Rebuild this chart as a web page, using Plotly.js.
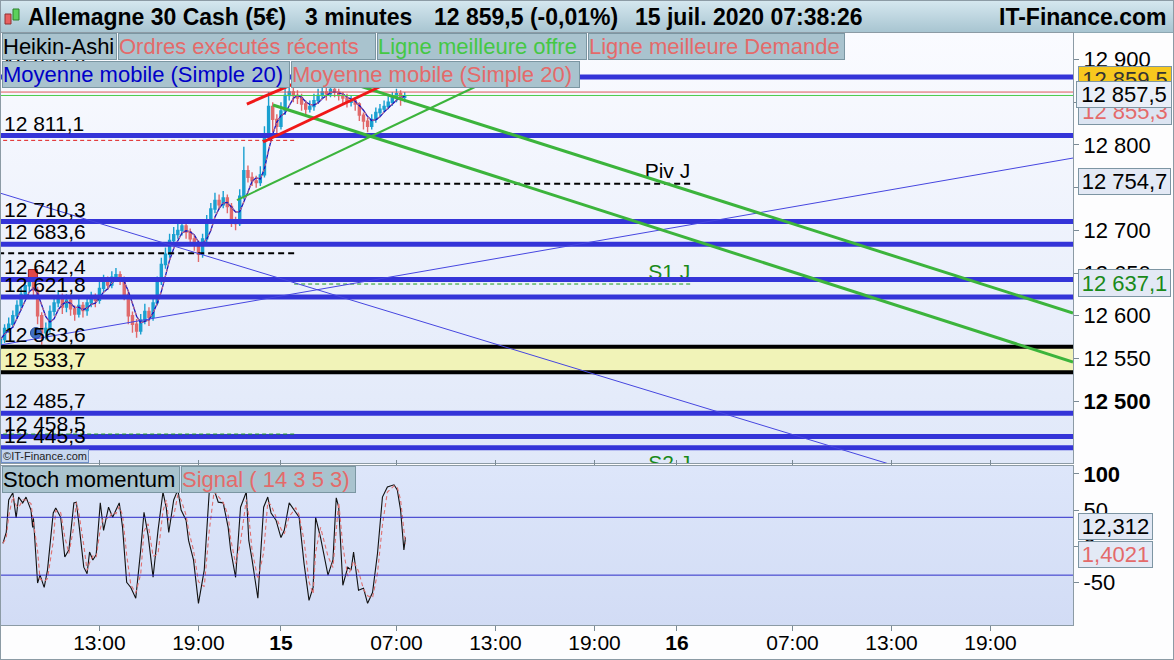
<!DOCTYPE html>
<html><head><meta charset="utf-8">
<script src="https://cdn.plot.ly/plotly-3.0.1.min.js"></script>
<style>
html,body{margin:0;padding:0;background:#fff;}
#wrap{position:relative;width:1174px;height:660px;overflow:hidden;background:#fdfdfe;}
#hdr{position:absolute;left:0;top:0;width:1174px;height:33px;background:linear-gradient(#d6e8f0,#a8c5d1);border-bottom:1px solid #8ea7b2;box-sizing:border-box;}
#bgMain{position:absolute;left:1px;top:33px;width:1072px;height:430px;background:linear-gradient(#fafbff,#e0e8f9);}
#bgSto{position:absolute;left:1px;top:466px;width:1072px;height:159px;background:linear-gradient(#dde6fa,#d2dcf5);}
#frame{position:absolute;left:0;top:0;width:1174px;height:660px;box-sizing:border-box;border:1px solid #8c9ba5;pointer-events:none;}
#chart{position:absolute;left:0;top:0;width:1174px;height:660px;}
</style></head>
<body>
<div id="wrap">
<div id="hdr"></div><div id="bgMain"></div><div id="bgSto"></div>
<div id="chart"></div>
<div id="frame"></div>
</div>
<script>
// ---------- DATA ----------
const candleStart = "2020-07-14 07:00";   // 15-minute Heikin-Ashi candles
const candleStepMin = 15;
const firstOpen = 12565;
const close = [12572,12585,12590,12600,12612,12625,12635,12640,12630,12600,
12580,12585,12605,12615,12622,12610,12618,12608,12602,12612,
12606,12615,12620,12618,12632,12640,12636,12645,12648,12642,
12625,12600,12590,12582,12595,12605,12598,12615,12640,12660,
12672,12688,12695,12700,12705,12698,12690,12685,12672,12690,
12712,12725,12735,12730,12738,12728,12712,12708,12740,12770,
12762,12758,12756,12765,12810,12845,12830,12822,12840,12858,
12862,12858,12855,12848,12842,12845,12852,12858,12862,12860,
12865,12862,12858,12855,12850,12852,12848,12835,12828,12822,
12830,12838,12842,12845,12850,12855,12860,12856,12857.5];
const high = [12578,12590,12598,12606,12618,12632,12642,12650,12645,12634,
12604,12592,12612,12622,12630,12626,12625,12622,12612,12620,
12616,12622,12628,12626,12640,12648,12646,12652,12656,12652,
12646,12628,12605,12596,12602,12614,12610,12622,12646,12668,
12680,12696,12704,12710,12712,12708,12702,12694,12688,12696,
12718,12732,12744,12742,12746,12742,12732,12716,12748,12798,
12776,12768,12764,12775,12822,12862,12850,12836,12850,12868,
12873,12868,12864,12860,12852,12852,12860,12866,12870,12868,
12872,12870,12866,12862,12860,12858,12856,12850,12838,12832,
12836,12844,12848,12852,12857,12862,12866,12864,12862];
const low = [12560,12568,12580,12586,12596,12606,12620,12628,12622,12590,
12566,12572,12580,12600,12610,12602,12604,12600,12594,12598,
12598,12600,12610,12610,12614,12628,12630,12632,12640,12636,
12618,12590,12580,12574,12578,12590,12588,12594,12612,12636,
12655,12668,12682,12690,12694,12690,12684,12676,12663,12668,
12686,12708,12720,12724,12726,12720,12704,12700,12705,12736,
12756,12752,12750,12752,12762,12805,12815,12812,12818,12835,
12852,12850,12848,12840,12834,12838,12840,12848,12854,12852,
12856,12856,12852,12848,12844,12845,12840,12828,12818,12815,
12818,12826,12834,12838,12842,12846,12850,12846,12850];

const stochTime = ["2020-07-14 07:09","2020-07-14 07:21","2020-07-14 07:30","2020-07-14 07:45","2020-07-14 07:57","2020-07-14 08:06","2020-07-14 08:21","2020-07-14 08:33","2020-07-14 08:51","2020-07-14 08:57",
"2020-07-14 09:00","2020-07-14 09:15","2020-07-14 09:24","2020-07-14 09:39","2020-07-14 09:51","2020-07-14 10:12","2020-07-14 10:21","2020-07-14 10:39","2020-07-14 10:54","2020-07-14 11:09",
"2020-07-14 11:27","2020-07-14 11:36","2020-07-14 11:45","2020-07-14 12:03","2020-07-14 12:15","2020-07-14 12:24","2020-07-14 12:36","2020-07-14 12:48","2020-07-14 13:03","2020-07-14 13:15",
"2020-07-14 13:33","2020-07-14 13:48","2020-07-14 14:00","2020-07-14 14:12","2020-07-14 14:24","2020-07-14 14:39","2020-07-14 14:54","2020-07-14 15:12","2020-07-14 15:30","2020-07-14 15:42",
"2020-07-14 15:57","2020-07-14 16:15","2020-07-14 16:33","2020-07-14 16:51","2020-07-14 17:03","2020-07-14 17:12","2020-07-14 17:30","2020-07-14 17:45","2020-07-14 17:57","2020-07-14 18:15",
"2020-07-14 18:24","2020-07-14 18:42","2020-07-14 19:00","2020-07-14 19:21","2020-07-14 19:39","2020-07-14 19:57","2020-07-14 20:12","2020-07-14 20:30","2020-07-14 20:48","2020-07-14 20:57",
"2020-07-14 21:15","2020-07-14 21:33","2020-07-14 21:54","2020-07-14 22:03","2020-07-14 22:15","2020-07-14 22:36","2020-07-14 22:57","2020-07-14 23:12","2020-07-14 23:24","2020-07-14 23:42",
"2020-07-15 00:00","2020-07-15 00:12","2020-07-15 00:30","2020-07-15 00:54","2020-07-15 01:06","2020-07-15 01:24","2020-07-15 01:42","2020-07-15 01:57","2020-07-15 02:06","2020-07-15 02:24",
"2020-07-15 02:51","2020-07-15 03:09","2020-07-15 03:21","2020-07-15 03:30","2020-07-15 03:45","2020-07-15 04:03","2020-07-15 04:15","2020-07-15 04:24","2020-07-15 04:42","2020-07-15 05:00",
"2020-07-15 05:15","2020-07-15 05:33","2020-07-15 05:51","2020-07-15 06:09","2020-07-15 06:27","2020-07-15 06:51","2020-07-15 07:03","2020-07-15 07:15","2020-07-15 07:27","2020-07-15 07:33"];
const stochK = [4,19,64,74,39,68,60,68,50,26,
39,-51,-40,-57,-33,46,53,40,-15,-5,
60,61,32,-29,-38,-8,-19,-12,60,22,
54,40,50,60,26,-50,-57,-72,-5,47,
15,-43,22,75,53,19,64,78,50,36,
8,-19,-79,-33,74,78,61,60,26,-5,
-43,54,75,8,-19,-72,54,68,46,36,
12,22,60,46,40,-24,-75,-57,40,12,
-40,-19,67,54,-54,-29,-33,-8,-61,-58,
-79,-64,-10,68,82,85,78,50,-5,12.312];
const stochNow = 12.312, signalNow = 1.4021;
const stochBands = [40, -40];

// horizontal levels
const blueLevels = [12879.6, 12811.1, 12710.3, 12683.6, 12642.4, 12621.8, 12485.7, 12458.5, 12445.3];
const bandLevels = [12563.6, 12533.7];
const bidAskLines = {demande: 12862, offre: 12858};
const askPrice = 12859.5, lastPrice = 12857.5, bidPrice = 12855.3;
// pivots: previous day and current day
const dayBreaks = ["2020-07-14 00:48", "2020-07-15 00:48", "2020-07-16 00:48"];
const prevPivot = 12673.1, prevR1 = 12805.4, prevS1 = 12461.3;
const pivJ = 12754.7, s1J = 12637.1, s2J = 12413;
// trend lines [t0, p0, t1, p1]
const blueDown = ["2020-07-14 06:58", 12743.7, "2020-07-17 00:00", 12360.6];
const blueUp = ["2020-07-14 06:58", 12565.6, "2020-07-17 00:00", 12784.7];
const greenUpper = ["2020-07-15 04:36", 12870.2, "2020-07-17 00:00", 12603.1];
const greenLower = ["2020-07-14 23:31", 12846.8, "2020-07-17 00:00", 12545.7];
const greenRise = ["2020-07-14 21:20", 12735.5, "2020-07-15 11:53", 12869.1];
const redUpper = ["2020-07-14 21:56", 12848.0, "2020-07-15 01:09", 12874.9];
const redLower = ["2020-07-14 22:55", 12803.5, "2020-07-15 06:36", 12873.8];
// executed orders
const orderTime = ["2020-07-14 08:58", "2020-07-14 09:09"];
const orderPrice = [12648.8, 12579.7];

const xRange = ["2020-07-14 07:02", "2020-07-17 00:00"];
const xTickVals = ["2020-07-14 13:00","2020-07-14 19:00","2020-07-15 00:00","2020-07-15 07:00","2020-07-15 13:00","2020-07-15 19:00","2020-07-16 00:00","2020-07-16 07:00","2020-07-16 13:00","2020-07-16 19:00"];
const xTickText = ["13:00","19:00","<b>15</b>","07:00","13:00","19:00","<b>16</b>","07:00","13:00","19:00"];
const yTickVals = [12500,12550,12600,12650,12700,12750,12800,12850,12900];
const yTickText = ["<b>12 500</b>","12 550","12 600","12 650","12 700","12 750","12 800","12 850","12 900"];
const y2TickVals = [100, 50, 0, -50];
const y2TickText = ["<b>100</b>","50","0","-50"];

// ---------- helpers ----------
function pad(n){return (n<10?"0":"")+n;}
function fmtTime(ms){const d=new Date(ms);return d.getUTCFullYear()+"-"+pad(d.getUTCMonth()+1)+"-"+pad(d.getUTCDate())+" "+pad(d.getUTCHours())+":"+pad(d.getUTCMinutes());}
const t0 = Date.UTC(2020,6,14,7,0);
const candleTime = close.map((_,i)=>fmtTime(t0 + i*candleStepMin*60000));
const open = [firstOpen].concat(close.slice(0,-1));
function sma(a,n){return a.map((_,i)=>{const s=a.slice(Math.max(0,i-n+1),i+1);return s.reduce((p,c)=>p+c,0)/s.length;});}
const ma20 = sma(close,4);
const signal = sma(stochK,2);
function fr(v,dec){const s=v.toFixed(dec).split(".");const i=s[0].replace(/\B(?=(\d{3})+(?!\d))/g," ");return s.length>1? i+","+s[1] : i;}
function PX(px){return (px-1)/1072;}
function PY(py){return (625-py)/592;}

const FONT = '"Liberation Sans", Arial, sans-serif';
const SALMON = '#e46a6a', BLUE='#3434d8';

// ---------- traces ----------
const traces = [
 {type:'candlestick', x:candleTime, open:open, high:high, low:low, close:close, xaxis:'x', yaxis:'y',
  increasing:{line:{color:'#1aa0d0',width:1.4},fillcolor:'#1aa0d0'},
  decreasing:{line:{color:'#e06a6c',width:1.4},fillcolor:'#e06a6c'},
  whiskerwidth:0, hoverinfo:'skip'},
 {type:'scatter', mode:'lines', x:candleTime, y:ma20, line:{color:'#1414c0',width:1.3}, hoverinfo:'skip'},
 {type:'scatter', mode:'lines', x:candleTime, y:ma20, line:{color:'#e07878',width:1,dash:'3px,3px'}, hoverinfo:'skip'},
 {type:'scatter', mode:'markers', x:[orderTime[0]], y:[orderPrice[0]], marker:{symbol:'square',size:9,color:'#e04848',line:{color:'#a02020',width:1}}, hoverinfo:'skip'},
 {type:'scatter', mode:'markers', x:[orderTime[1]], y:[orderPrice[1]], marker:{symbol:'circle',size:11,color:'#3f6fc4',line:{color:'#2a4f9a',width:1}}, hoverinfo:'skip'},
 {type:'scatter', mode:'text', x:[dayBreaks[2]], y:[pivJ], text:['Piv J'], textposition:'top left', textfont:{family:FONT,size:21,color:'#000'}, cliponaxis:true, hoverinfo:'skip'},
 {type:'scatter', mode:'text', x:[dayBreaks[2]], y:[s1J], text:['S1 J'], textposition:'top left', textfont:{family:FONT,size:21,color:'#1a8a1a'}, cliponaxis:true, hoverinfo:'skip'},
 {type:'scatter', mode:'text', x:[dayBreaks[2]], y:[s2J], text:['S2 J'], textposition:'top left', textfont:{family:FONT,size:21,color:'#1a8a1a'}, cliponaxis:true, hoverinfo:'skip'},
 {type:'scatter', mode:'lines', x:stochTime, y:stochK, xaxis:'x', yaxis:'y2', line:{color:'#111',width:1.1}, hoverinfo:'skip'},
 {type:'scatter', mode:'lines', x:stochTime, y:signal, xaxis:'x', yaxis:'y2', line:{color:'#e07070',width:1.1,dash:'4px,3px'}, hoverinfo:'skip'}
];

// ---------- shapes ----------
const shapes = [];
function hline(y, color, width, dash, x0, x1, yref){
  shapes.push({type:'line', xref:'x', yref:yref||'y', x0:x0||xRange[0], x1:x1||xRange[1], y0:y, y1:y, line:{color:color,width:width,dash:dash||'solid'}});
}
function seg(a, color, width){
  shapes.push({type:'line', xref:'x', yref:'y', x0:a[0], y0:a[1], x1:a[2], y1:a[3], line:{color:color,width:width}});
}
shapes.push({type:'rect', xref:'x', yref:'y', x0:xRange[0], x1:xRange[1], y0:bandLevels[1], y1:bandLevels[0], fillcolor:'#f1f3b8', line:{width:0}, layer:'below'});
hline(bandLevels[0], '#000', 4);
hline(bandLevels[1], '#000', 4);
blueLevels.forEach(v=>hline(v, BLUE, 5));
hline(bidAskLines.demande, '#e05a5a', 1);
hline(bidAskLines.offre, '#4ccc4c', 1);
hline(prevPivot, '#000', 2, '6px,4px', dayBreaks[0], dayBreaks[1]);
hline(prevR1, '#e02020', 1, '4px,3px', dayBreaks[0], dayBreaks[1]);
hline(prevS1, '#1a9a1a', 1, '4px,3px', dayBreaks[0], dayBreaks[1]);
hline(pivJ, '#000', 2, '6px,4px', dayBreaks[1], dayBreaks[2]);
hline(s1J, '#1a9a1a', 1, '4px,3px', dayBreaks[1], dayBreaks[2]);
hline(s2J, '#1a9a1a', 1, '4px,3px', dayBreaks[1], dayBreaks[2]);
seg(blueDown, '#4646e0', 1);
seg(blueUp, '#4646e0', 1);
seg(greenUpper, '#3cb43c', 3);
seg(greenLower, '#3cb43c', 3);
seg(greenRise, '#3cb43c', 2);
seg(redUpper, '#f01818', 3);
seg(redLower, '#f01818', 3);
stochBands.forEach(v=>hline(v, '#2c2cc8', 1, 'solid', null, null, 'y2'));
// header candle icon
shapes.push({type:'rect', xref:'paper', yref:'paper', x0:PX(5), x1:PX(11), y0:PY(24), y1:PY(14), fillcolor:'#e86060', line:{color:'#903030',width:1}});
shapes.push({type:'rect', xref:'paper', yref:'paper', x0:PX(13), x1:PX(19), y0:PY(20), y1:PY(9), fillcolor:'#5cd05c', line:{color:'#2a802a',width:1}});

// ---------- annotations ----------
const ann = [];
// left level labels
blueLevels.concat(bandLevels).forEach(v=>{
  ann.push({xref:'paper', yref:'y', x:PX(3), y:v, xanchor:'left', yanchor:'bottom', text:fr(v,1), showarrow:false, font:{family:FONT,size:21,color:'#000'}, borderpad:0});
});
// header
const hdr = [
  {t:'<b>Allemagne 30 Cash (5€)</b>', x:26},
  {t:'<b>3 minutes</b>', x:303},
  {t:'<b>'+fr(askPrice,1)+' (-0,01%)</b>', x:432},
  {t:'<b>15 juil. 2020 07:38:26</b>', x:633}
];
hdr.forEach(h=>ann.push({xref:'paper', yref:'paper', x:PX(h.x), y:PY(17), xanchor:'left', yanchor:'middle', text:h.t, showarrow:false, font:{family:FONT,size:23,color:'#000'}}));
ann.push({xref:'paper', yref:'paper', x:PX(1168), y:PY(17), xanchor:'right', yanchor:'middle', text:'<b>IT-Finance.com</b>', showarrow:false, font:{family:FONT,size:23,color:'#000'}});
// legend boxes
function box(t, color, x0, x1, y0, y1, size){
  ann.push({xref:'paper', yref:'paper', x:PX(x0), y:PY(y0), xanchor:'left', yanchor:'top', text:t, showarrow:false,
    width:x1-x0-2, height:y1-y0-2, align:'left', valign:'middle', bgcolor:'#a9c3ce', bordercolor:'#7b96a2', borderwidth:1, borderpad:0,
    font:{family:FONT,size:size||22,color:color}});
}
box('Heikin-Ashi', '#000', 2, 117, 33, 60);
box('Ordres exécutés récents', SALMON, 118, 376, 33, 60);
box('Ligne meilleure offre', '#44c844', 377, 587, 33, 60);
box('Ligne meilleure Demande', SALMON, 588, 845, 33, 60);
box('Moyenne mobile (Simple 20)', '#0000c8', 2, 290, 61, 88);
box('Moyenne mobile (Simple 20)', SALMON, 291, 580, 61, 88);
box('Stoch momentum', '#000', 2, 180, 466, 493);
box('Signal ( 14 3 5 3)', SALMON, 181, 356, 466, 493);
// copyright
ann.push({xref:'paper', yref:'paper', x:PX(1), y:PY(449), xanchor:'left', yanchor:'top', text:'©IT-Finance.com', showarrow:false,
  width:86, height:12, bgcolor:'#c6d6ef', bordercolor:'#6f8fc8', borderwidth:1, borderpad:0, font:{family:FONT,size:11,color:'#222'}});
// right axis value boxes
function rbox(t, color, bg, x0, x1, y0, y1){
  ann.push({xref:'paper', yref:'paper', x:PX(x0), y:PY(y0), xanchor:'left', yanchor:'top', text:t, showarrow:false,
    width:x1-x0-2, height:y1-y0-2, align:'center', valign:'middle', bgcolor:bg, bordercolor:'#7d95a3', borderwidth:1, borderpad:0,
    font:{family:FONT,size:22,color:color}});
}
rbox(fr(askPrice,1), '#333', '#f7c81e', 1078, 1172, 66, 93);
rbox(fr(bidPrice,1), SALMON, '#dde5f2', 1078, 1172, 98, 125);
rbox(fr(lastPrice,1), '#000', '#eaeff8', 1076, 1172, 81, 108);
rbox(fr(pivJ,1), '#000', '#e3e9f5', 1078, 1171, 168, 195);
rbox(fr(s1J,1), '#1a8a1a', '#e3e9f5', 1078, 1171, 269, 297);
rbox(fr(stochNow,3), '#000', '#e3e9f5', 1078, 1153, 513, 540);
rbox(fr(signalNow,4), SALMON, '#e3e9f5', 1078, 1153, 541, 568);

const layout = {
  width:1174, height:660, margin:{l:1,r:101,t:33,b:35,pad:0},
  paper_bgcolor:'rgba(0,0,0,0)', plot_bgcolor:'rgba(0,0,0,0)',
  separators:', ', showlegend:false, font:{family:FONT,size:21,color:'#000'},
  xaxis:{type:'date', range:xRange, anchor:'y2', rangeslider:{visible:false}, showgrid:false, zeroline:false,
    tickvals:xTickVals, ticktext:xTickText, ticks:'outside', ticklen:5, tickcolor:'#7a8a95', ticklabelstandoff:-6,
    tickfont:{family:FONT,size:21,color:'#000'}, showline:true, linecolor:'#8c9ba5', linewidth:1, mirror:'all'},
  yaxis:{domain:[0.27365,1], range:[12427.4,12931.2], side:'right', anchor:'x', showgrid:false, zeroline:false,
    tickvals:yTickVals, ticktext:yTickText, ticks:'outside', ticklen:5, tickcolor:'#7a8a95',
    tickfont:{family:FONT,size:22,color:'#000'}, showline:true, linecolor:'#8c9ba5', mirror:true},
  yaxis2:{domain:[0,0.26858], range:[-109,111], side:'right', anchor:'x', showgrid:false, zeroline:false,
    tickvals:y2TickVals, ticktext:y2TickText, ticks:'outside', ticklen:5, tickcolor:'#7a8a95',
    tickfont:{family:FONT,size:22,color:'#000'}, showline:true, linecolor:'#8c9ba5', mirror:true},
  shapes:shapes, annotations:ann
};
Plotly.newPlot('chart', traces, layout, {staticPlot:true, displayModeBar:false});
</script>
</body></html>
